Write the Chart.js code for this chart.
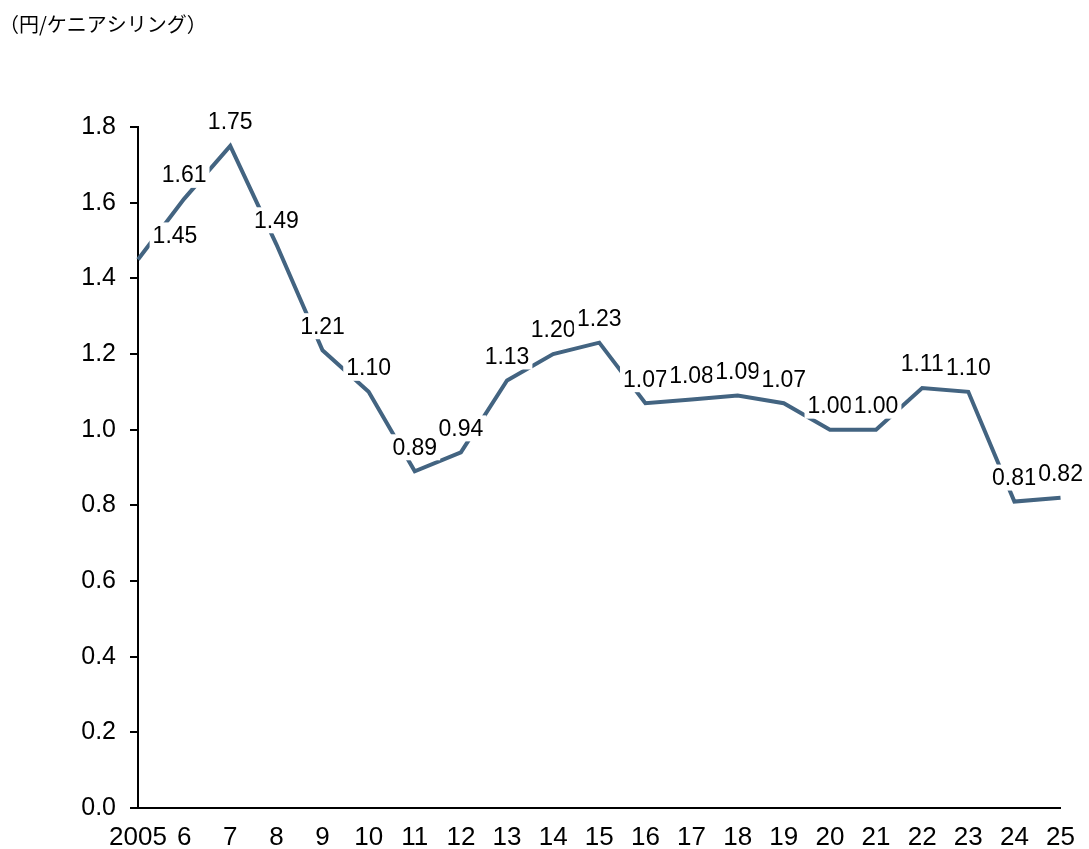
<!DOCTYPE html>
<html>
<head>
<meta charset="utf-8">
<script src="https://cdn.jsdelivr.net/npm/chart.js@4/dist/chart.umd.min.js"></script>
<style>
  html, body { margin: 0; padding: 0; background: #fff; }
  #wrap { width: 1089px; height: 849px; position: relative; }
</style>
</head>
<body>
<div id="wrap"><canvas id="rateChart"></canvas></div>
<script>
// ==================== DATA ====================
const years = ['2005', '6', '7', '8', '9', '10', '11', '12', '13', '14', '15',
               '16', '17', '18', '19', '20', '21', '22', '23', '24', '25'];
const rates = [1.45, 1.61, 1.75, 1.49, 1.21, 1.10, 0.89, 0.94, 1.13, 1.20, 1.23,
               1.07, 1.08, 1.09, 1.07, 1.00, 1.00, 1.11, 1.10, 0.81, 0.82];
const yTicks = [0, 0.2, 0.4, 0.6, 0.8, 1.0, 1.2, 1.4, 1.6, 1.8];
const unitLabel = '（円/ケニアシリング）';

const LINE_COLOR = '#436481';
const FONT = '"Liberation Sans", Arial, sans-serif';

// ==================== PLUGINS ====================
// value labels on white boxes, drawn over the line like the original
const valueLabels = {
    id: 'valueLabels',
    afterDatasetsDraw(chart) {
        const ctx = chart.ctx;
        const meta = chart.getDatasetMeta(0);
        ctx.save();
        ctx.font = '23px ' + FONT;
        ctx.textAlign = 'center';
        ctx.textBaseline = 'middle';
        meta.data.forEach((pt, i) => {
            const txt = rates[i].toFixed(2);
            let x = pt.x;
            const y = pt.y - 24;
            if (i === 0) x += 37; // first label pushed inside the plot
            const w = ctx.measureText(txt).width;
            ctx.fillStyle = '#fff';
            ctx.fillRect(x - w / 2 - 3, y - 13, w + 6, 26);
            ctx.fillStyle = '#000';
            ctx.fillText(txt, x, y + 1);
        });
        ctx.restore();
    }
};

const unitTitle = {
    id: 'unitTitle',
    afterDraw(chart) {
        const ctx = chart.ctx;
        ctx.save();
        ctx.font = '20px "Noto Sans CJK JP", sans-serif';
        ctx.fillStyle = '#000';
        ctx.textBaseline = 'middle';
        ctx.fillText(unitLabel, -1, 24);
        ctx.restore();
    }
};

// ==================== CHART ====================
const ctx = document.getElementById('rateChart');
new Chart(ctx.getContext('2d'), {
    type: 'line',
    data: {
        labels: years,
        datasets: [{
            data: rates,
            borderColor: LINE_COLOR,
            borderWidth: 4,
            pointRadius: 0,
            tension: 0,
            fill: false
        }]
    },
    options: {
        responsive: true,
        maintainAspectRatio: false,
        animation: false,
        layout: { padding: { top: 127, right: 23, left: 0, bottom: 0 } },
        plugins: {
            legend: { display: false },
            tooltip: { enabled: false }
        },
        scales: {
            x: {
                offset: false,
                grid: { display: false, drawTicks: false },
                border: { display: true, color: '#000', width: 2 },
                ticks: {
                    autoSkip: false,
                    maxRotation: 0,
                    minRotation: 0,
                    padding: 14,
                    color: '#000',
                    font: { family: FONT, size: 26 }
                },
                afterFit: s => { s.height = 41; }
            },
            y: {
                min: 0,
                max: 1.8,
                afterBuildTicks: s => { s.ticks = yTicks.map(v => ({ value: v })); },
                grid: { drawOnChartArea: false, drawTicks: true, tickLength: 8, color: '#000', lineWidth: 2 },
                border: { display: true, color: '#000', width: 2 },
                ticks: {
                    padding: 14,
                    color: '#000',
                    font: { family: FONT, size: 25 },
                    callback: v => Number(v).toFixed(1)
                },
                afterFit: s => { s.width = 138; }
            }
        }
    },
    plugins: [valueLabels, unitTitle]
});
</script>
</body>
</html>
